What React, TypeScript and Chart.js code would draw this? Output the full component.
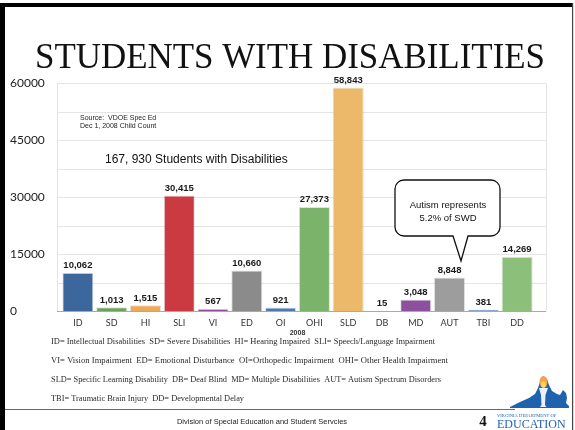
import React, { useEffect, useRef } from 'react';
import { Chart, registerables } from 'chart.js';

Chart.register(...registerables);

// ---- data ----
const categories = ['ID', 'SD', 'HI', 'SLI', 'VI', 'ED', 'OI', 'OHI', 'SLD', 'DB', 'MD', 'AUT', 'TBI', 'DD'];
const students = [10062, 1013, 1515, 30415, 567, 10660, 921, 27373, 58843, 15, 3048, 8848, 381, 14269];
const barColors = ['#3C679C', '#6BA35A', '#EBAA57', '#CB3A41', '#8E4B9B', '#8B8B8B', '#4A7BB4', '#7CB36B', '#ECB86A', '#E4A6A6', '#8D509F', '#9D9D9D', '#6A8EC0', '#8CBF79'];
const yMax = 60000;
const yStep = 15000;
const yearLabel = '2008';
const chartTitle = 'STUDENTS WITH DISABILITIES';
const totalNote = '167, 930 Students with Disabilities';
const sourceLines = ['Source:  VDOE Spec Ed', 'Dec 1, 2008 Child Count'];
const calloutLines = ['Autism represents', '5.2% of SWD'];
const legendLines = [
  'ID= Intellectual Disabilities  SD= Severe Disabilities  HI= Hearing Impaired  SLI= Speech/Language Impairment',
  'VI= Vision Impairment  ED= Emotional Disturbance  OI=Orthopedic Impairment  OHI= Other Health Impairment',
  'SLD= Specific Learning Disability  DB= Deaf Blind  MD= Multiple Disabilities  AUT= Autism Spectrum Disorders',
  'TBI= Traumatic Brain Injury  DD= Developmental Delay',
];
const footerText = 'Division of Special Education and Student Servcies';
const pageNumber = '4';
const logoTop = 'VIRGINIA DEPARTMENT OF';
const logoMain = 'EDUCATION';

// ---- layout constants ----
const GRID_LEFT = 57;
const GRID_RIGHT = 546;

const decorPlugin = {
  id: 'decor',
  beforeDatasetsDraw(chart: any) {
    const { ctx } = chart;
    const y = chart.scales.y;
    ctx.save();
    ctx.lineWidth = 1;
    ctx.strokeStyle = '#E4E4E4';
    for (let v = 0; v <= yMax; v += yStep / 2) {
      const py = Math.round(y.getPixelForValue(v)) + 0.5;
      ctx.beginPath();
      ctx.moveTo(GRID_LEFT, py);
      ctx.lineTo(GRID_RIGHT, py);
      ctx.stroke();
    }
    const top = Math.round(y.getPixelForValue(yMax)) + 0.5;
    const bottom = Math.round(y.getPixelForValue(0)) + 0.5;
    ctx.beginPath();
    ctx.moveTo(GRID_LEFT + 0.5, top);
    ctx.lineTo(GRID_LEFT + 0.5, bottom);
    ctx.moveTo(GRID_RIGHT + 0.5, top);
    ctx.lineTo(GRID_RIGHT + 0.5, bottom);
    ctx.stroke();
    ctx.strokeStyle = '#A9A9A9';
    ctx.beginPath();
    ctx.moveTo(GRID_LEFT, bottom);
    ctx.lineTo(GRID_RIGHT, bottom);
    ctx.stroke();
    ctx.restore();
  },
  afterDraw(chart: any) {
    const { ctx } = chart;
    ctx.save();

    // value labels
    const meta = chart.getDatasetMeta(0);
    ctx.fillStyle = '#1a1a1a';
    ctx.font = 'bold 9.5px "Liberation Sans"';
    ctx.textAlign = 'center';
    ctx.textBaseline = 'bottom';
    meta.data.forEach((el: any, i: number) => {
      ctx.fillText(students[i].toLocaleString('en-US'), el.x, el.y - 2.5);
    });

    // title
    ctx.fillStyle = '#111';
    ctx.font = '36px "Liberation Serif"';
    ctx.textAlign = 'center';
    ctx.textBaseline = 'alphabetic';
    ctx.fillText(chartTitle, 290, 68, 510);

    // source
    ctx.fillStyle = '#222';
    ctx.font = '7px "Liberation Sans"';
    ctx.textAlign = 'left';
    ctx.textBaseline = 'middle';
    ctx.fillText(sourceLines[0], 80, 118);
    ctx.fillText(sourceLines[1], 80, 126);

    // total
    ctx.fillStyle = '#111';
    ctx.font = '12px "Liberation Sans"';
    ctx.fillText(totalNote, 105, 160, 208);

    // callout
    const L = 395, R = 500, T = 180, B = 236, r = 9;
    const tx1 = 453, tx2 = 468, tipX = 461, tipY = 261;
    ctx.beginPath();
    ctx.moveTo(L + r, T);
    ctx.lineTo(R - r, T);
    ctx.arcTo(R, T, R, T + r, r);
    ctx.lineTo(R, B - r);
    ctx.arcTo(R, B, R - r, B, r);
    ctx.lineTo(tx2, B);
    ctx.lineTo(tipX, tipY);
    ctx.lineTo(tx1, B);
    ctx.lineTo(L + r, B);
    ctx.arcTo(L, B, L, B - r, r);
    ctx.lineTo(L, T + r);
    ctx.arcTo(L, T, L + r, T, r);
    ctx.closePath();
    ctx.fillStyle = '#fff';
    ctx.fill();
    ctx.lineWidth = 1.3;
    ctx.strokeStyle = '#111';
    ctx.stroke();
    ctx.fillStyle = '#111';
    ctx.font = '9.5px "Liberation Sans"';
    ctx.textAlign = 'center';
    ctx.fillText(calloutLines[0], 448, 205);
    ctx.fillText(calloutLines[1], 448, 218);

    // legend lines
    ctx.fillStyle = '#2a2a2a';
    ctx.font = '8.8px "Liberation Serif"';
    ctx.textAlign = 'left';
    const legendY = [342, 361, 380, 399];
    const legendW = [384, 397, 390, 193];
    legendLines.forEach((t, i) => ctx.fillText(t, 51, legendY[i], legendW[i]));

    // footer line
    ctx.strokeStyle = '#5E6A93';
    ctx.lineWidth = 1.2;
    ctx.beginPath();
    ctx.moveTo(5, 409.5);
    ctx.lineTo(515, 409.5);
    ctx.stroke();

    ctx.fillStyle = '#222';
    ctx.font = '7.5px "Liberation Sans"';
    ctx.textAlign = 'center';
    ctx.fillText(footerText, 262, 422, 184);

    ctx.fillStyle = '#111';
    ctx.font = 'bold 15px "Liberation Serif"';
    ctx.fillText(pageNumber, 483, 422);

    // logo: state silhouette
    ctx.fillStyle = '#1F62B0';
    ctx.beginPath();
    const pts = [
      [510, 407], [520, 402], [529, 398], [535, 394], [538, 388], [540, 382], [543, 376],
      [547, 379], [549, 385], [552, 391], [557, 394], [560, 395], [563, 390], [566, 393],
      [567, 398], [566, 403], [569, 406], [569, 408], [510, 408],
    ];
    ctx.moveTo(pts[0][0], pts[0][1]);
    pts.slice(1).forEach((p) => ctx.lineTo(p[0], p[1]));
    ctx.closePath();
    ctx.fill();
    // torch
    ctx.fillStyle = '#EAF2FB';
    ctx.beginPath();
    ctx.moveTo(539, 388);
    ctx.lineTo(548, 388);
    ctx.lineTo(545.5, 395);
    ctx.lineTo(545, 405);
    ctx.lineTo(546.5, 407);
    ctx.lineTo(540, 407);
    ctx.lineTo(541.5, 405);
    ctx.lineTo(541, 395);
    ctx.closePath();
    ctx.fill();
    // flame
    ctx.fillStyle = '#F4A540';
    ctx.beginPath();
    ctx.ellipse(543.5, 382, 4, 6, 0, 0, Math.PI * 2);
    ctx.fill();
    ctx.fillStyle = '#FFD66B';
    ctx.beginPath();
    ctx.ellipse(543.5, 384.5, 2.2, 3.2, 0, 0, Math.PI * 2);
    ctx.fill();

    ctx.fillStyle = '#1F62B0';
    ctx.textAlign = 'left';
    ctx.font = '4.6px "Liberation Serif"';
    ctx.fillText(logoTop, 497, 416, 70);
    ctx.font = '12px "Liberation Serif"';
    ctx.fillText(logoMain, 497, 425, 71);

    // slide frame
    ctx.fillStyle = '#000';
    ctx.fillRect(0, 3, 5, 427);
    ctx.fillRect(0, 3, 573, 4);
    ctx.fillStyle = '#444';
    ctx.fillRect(572, 3, 1.2, 427);

    ctx.restore();
  },
};

export default function App() {
  const ref = useRef<HTMLCanvasElement>(null);
  useEffect(() => {
    if (!ref.current) return;
    const chart = new Chart(ref.current, {
      type: 'bar',
      data: {
        labels: categories,
        datasets: [
          {
            data: students,
            backgroundColor: barColors,
            borderColor: 'rgba(0,0,0,0.12)',
            borderWidth: 1,
            barPercentage: 0.92,
            categoryPercentage: 1,
          },
        ],
      },
      options: {
        responsive: false,
        animation: false,
        devicePixelRatio: 1,
        layout: { padding: { left: 10, top: 83, right: 41, bottom: 93 } },
        plugins: {
          legend: { display: false },
          tooltip: { enabled: false },
          title: { display: false },
        },
        scales: {
          x: {
            grid: { display: false, drawTicks: false },
            border: { display: false },
            ticks: {
              padding: 7,
              autoSkip: false,
              maxRotation: 0,
              color: '#333',
              font: { family: 'Lato', size: 9 },
            },
            title: {
              display: true,
              text: yearLabel,
              color: '#333',
              font: { family: 'Liberation Sans', size: 7, weight: 'bold' },
              padding: { top: 0, bottom: 0 },
            },
            afterFit: (s: any) => {
              s.height = 26;
            },
          },
          y: {
            min: 0,
            max: yMax,
            grid: { display: false, drawTicks: false },
            border: { display: false },
            ticks: {
              stepSize: yStep,
              crossAlign: 'far',
              color: '#222',
              font: { family: 'Lato', size: 12 },
              callback: (v: any) => String(v),
            },
            afterFit: (s: any) => {
              s.width = 51;
            },
          },
        },
      },
      plugins: [decorPlugin],
    } as any);
    return () => chart.destroy();
  }, []);
  return (
    <div style={{ position: 'absolute', left: 0, top: 0, width: 575, height: 430, background: '#fff' }}>
      <canvas ref={ref} width={575} height={430} style={{ display: 'block', width: 575, height: 430 }} />
    </div>
  );
}
